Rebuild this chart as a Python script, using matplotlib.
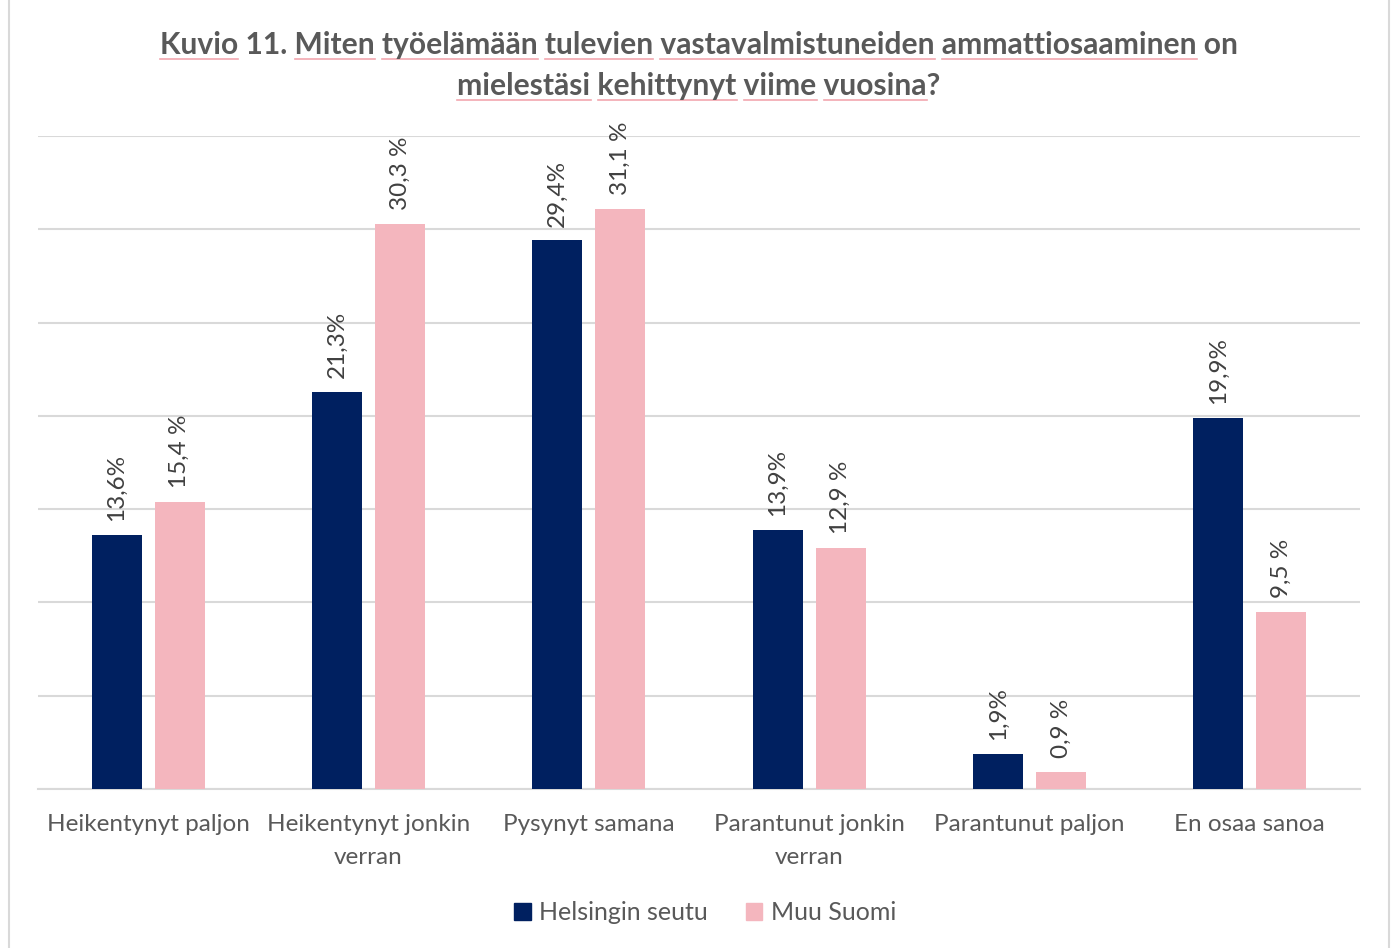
import matplotlib.pyplot as plt
import numpy as np
from matplotlib.patches import Rectangle, Patch

plt.rcParams['font.family'] = ['Lato', 'DejaVu Sans']

categories = ['Heikentynyt paljon', 'Heikentynyt jonkin\nverran', 'Pysynyt samana',
              'Parantunut jonkin\nverran', 'Parantunut paljon', 'En osaa sanoa']
helsinki = [13.6, 21.3, 29.4, 13.9, 1.9, 19.9]
muu_suomi = [15.4, 30.3, 31.1, 12.9, 0.9, 9.5]
helsinki_labels = ['13,6%', '21,3%', '29,4%', '13,9%', '1,9%', '19,9%']
muu_labels = ['15,4 %', '30,3 %', '31,1 %', '12,9 %', '0,9 %', '9,5 %']
series_names = ['Helsingin seutu', 'Muu Suomi']

title_lines = ['Kuvio 11. Miten työelämään tulevien vastavalmistuneiden ammattiosaaminen on',
               'mielestäsi kehittynyt viime vuosina?']
# words that have the pink underline in the original
underlined = [['Kuvio', 'Miten', 'työelämään', 'tulevien', 'vastavalmistuneiden', 'ammattiosaaminen'],
              ['mielestäsi', 'kehittynyt', 'viime', 'vuosina']]

navy = '#002060'
pink = '#F4B6BE'
grid_col = '#D9D9D9'
text_col = '#595959'
title_size = 21.6

W, H = 1397, 948
fig = plt.figure(figsize=(W / 100, H / 100), dpi=100)
fig.patches.append(Rectangle((9 / W, -0.01), 1380 / W, 1.02, transform=fig.transFigure,
                             fill=False, edgecolor=grid_col, linewidth=1.5))

ax = fig.add_axes([38 / W, 1 - 789 / H, 1322 / W, (789 - 136) / H])
x = np.arange(len(categories))
w = 0.227
off = 0.143
b1 = ax.bar(x - off, helsinki, w, color=navy, zorder=3)
b2 = ax.bar(x + off, muu_suomi, w, color=pink, zorder=3)

for bars, labels in [(b1, helsinki_labels), (b2, muu_labels)]:
    for rect, lab in zip(bars, labels):
        ax.annotate(lab, (rect.get_x() + rect.get_width() / 2, rect.get_height()),
                    xytext=(0, 10), textcoords='offset points', rotation=90,
                    ha='center', va='bottom', fontsize=17.5, color='#404040')

ax.set_xlim(-0.5, 5.5)
ax.set_ylim(0, 35)
ax.set_yticks(np.arange(0, 36, 5))
ax.yaxis.grid(True, color=grid_col, linewidth=1.5, zorder=0)
ax.tick_params(axis='y', left=False, labelleft=False)
ax.tick_params(axis='x', length=0, pad=18, labelsize=17.5, labelcolor=text_col)
ax.set_xticks(x)
ax.set_xticklabels(categories, linespacing=1.7)
for s in ['top', 'right', 'left']:
    ax.spines[s].set_visible(False)
ax.spines['bottom'].set_color(grid_col)
ax.spines['bottom'].set_linewidth(1.5)

handles = [Patch(color=navy), Patch(color=pink)]
fig.legend(handles, series_names, loc='center', bbox_to_anchor=(705 / W, 1 - 913 / H),
           ncol=2, frameon=False, fontsize=18, labelcolor=text_col,
           handlelength=0.65, handleheight=0.65, handletextpad=0.35, columnspacing=1.5)

# title with underlined words
renderer = fig.canvas.get_renderer()
baselines = [54, 95]
for line, words, yb in zip(title_lines, underlined, baselines):
    y = 1 - yb / H
    t = fig.text(699 / W, y, line, ha='center', va='baseline', fontsize=title_size,
                 fontweight='bold', color=text_col)
    left = t.get_window_extent(renderer).x0
    pos = 0
    for raw in line.split(' '):
        s = line.index(raw, pos)
        pos = s + len(raw)
        word = raw.rstrip('?.')
        if word not in words:
            continue
        e = s + len(word)
        prefix = fig.text(0, 0, line[:e], fontsize=title_size, fontweight='bold')
        wd = fig.text(0, 0, word, fontsize=title_size, fontweight='bold')
        x_end = left + prefix.get_window_extent(renderer).width
        x_start = x_end - wd.get_window_extent(renderer).width
        prefix.remove()
        wd.remove()
        uy = (H - yb - 5) / H
        fig.add_artist(plt.Line2D([x_start / W, x_end / W], [uy, uy], transform=fig.transFigure,
                                  color='#F2A7AF', linewidth=1.2))

fig.savefig('out.png', dpi=100)
